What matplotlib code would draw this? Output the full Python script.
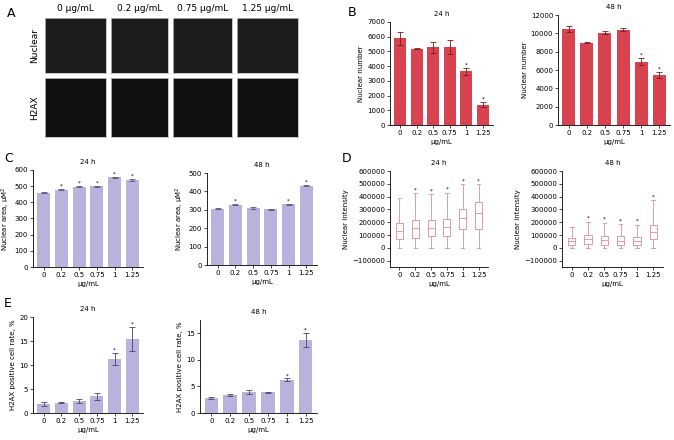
import matplotlib
matplotlib.use("Agg")
import matplotlib.pyplot as plt
import numpy as np

cats = ["0", "0.2", "0.5", "0.75", "1", "1.25"]
img_cols = ["0 μg/mL", "0.2 μg/mL", "0.75 μg/mL", "1.25 μg/mL"]
img_rows = ["Nuclear", "H2AX"]

b24 = [5900, 5180, 5270, 5300, 3650, 1380]
b24e = [450, 20, 350, 450, 220, 150]
b24s = [4, 5]
b48 = [10450, 8980, 10080, 10400, 6900, 5450]
b48e = [350, 50, 200, 180, 400, 300]
b48s = [4, 5]

c24 = [460, 478, 497, 498, 555, 538]
c24e = [3, 4, 4, 4, 4, 4]
c24s = [1, 2, 3, 4, 5]
c48 = [305, 328, 310, 303, 330, 432]
c48e = [3, 4, 3, 3, 4, 4]
c48s = [1, 4, 5]

# box stats: low whisker, q1, median, q3, high whisker
d24 = [(0, 65000, 130000, 195000, 390000), (0, 80000, 155000, 220000, 425000),
       (0, 90000, 155000, 220000, 420000), (0, 95000, 165000, 225000, 430000),
       (0, 150000, 230000, 300000, 495000), (0, 150000, 275000, 360000, 495000)]
d24s = [1, 2, 3, 4, 5]
d48 = [(0, 20000, 50000, 80000, 165000), (0, 30000, 65000, 100000, 205000),
       (0, 25000, 60000, 95000, 195000), (0, 25000, 55000, 90000, 185000),
       (0, 25000, 55000, 85000, 180000), (0, 65000, 120000, 180000, 370000)]
d48s = [1, 2, 3, 4, 5]

e24 = [1.9, 2.1, 2.5, 3.5, 11.3, 15.5]
e24e = [0.4, 0.1, 0.4, 0.7, 1.3, 2.5]
e24s = [4, 5]
e48 = [2.9, 3.4, 3.9, 3.9, 6.3, 13.8]
e48e = [0.2, 0.2, 0.4, 0.1, 0.2, 1.3]
e48s = [4, 5]

RED = "#d8434f"
PUR = "#b7b3dc"
PINK = "#e89aa3"
FS = 5

W, H = 674, 440
fig = plt.figure(figsize=(W / 100, H / 100), dpi=100)

def ax_px(l, t, r, b):
    return fig.add_axes([l / W, 1 - b / H, (r - l) / W, (b - t) / H])

def style(ax, title, ylabel):
    ax.spines["top"].set_visible(False)
    ax.spines["right"].set_visible(False)
    for s in ("left", "bottom"):
        ax.spines[s].set_linewidth(0.6)
    ax.tick_params(labelsize=FS, width=0.5, length=2, pad=1.5)
    ax.set_title(title, fontsize=FS, pad=4)
    ax.set_ylabel(ylabel, fontsize=FS, labelpad=2)
    ax.set_xlabel("μg/mL", fontsize=FS, labelpad=2)
    ax.set_xticks(range(len(cats)))
    ax.set_xticklabels(cats)

def bars(ax, vals, errs, stars, color, ecolor, ylim, yticks, title, ylabel):
    x = np.arange(len(cats))
    ax.bar(x, vals, 0.72, color=color, yerr=errs, capsize=2,
           error_kw=dict(elinewidth=0.6, capthick=0.6, ecolor=ecolor))
    top = ylim[1] - ylim[0]
    for i in stars:
        ax.text(i, vals[i] + errs[i] + top * 0.015, "*", ha="center", fontsize=4)
    ax.set_ylim(*ylim)
    ax.set_yticks(yticks)
    ax.set_xlim(-0.6, 5.6)
    style(ax, title, ylabel)

# Panel A
fig.text(7 / W, 1 - 17 / H, "A", fontsize=9)
xs = [(45, 106), (111, 168), (173, 232), (237, 298)]
ys = [(18, 73), (78, 137)]
for j, lab in enumerate(img_cols):
    fig.text((xs[j][0] + xs[j][1]) / 2 / W, 1 - 11 / H, lab, fontsize=6.5, ha="center")
    for i, rl in enumerate(img_rows):
        a = ax_px(xs[j][0], ys[i][0], xs[j][1], ys[i][1])
        a.set_facecolor("#1c1c1c" if i == 0 else "#101010")
        a.set_xticks([]); a.set_yticks([])
        for s in a.spines.values():
            s.set_color("#bbbbbb"); s.set_linewidth(0.6)
for i, rl in enumerate(img_rows):
    fig.text(35 / W, 1 - (ys[i][0] + ys[i][1]) / 2 / H, rl, fontsize=6.5, rotation=90,
             ha="center", va="center")

# Panel B
fig.text(348 / W, 1 - 16 / H, "B", fontsize=9)
a = ax_px(390, 22, 493, 125)
bars(a, b24, b24e, b24s, RED, "#7a1a22", (0, 7000), range(0, 7001, 1000), "24 h", "Nuclear number")
a = ax_px(558, 15, 670, 125)
bars(a, b48, b48e, b48s, RED, "#7a1a22", (0, 12000), range(0, 12001, 2000), "48 h", "Nuclear number")

# Panel C
fig.text(4 / W, 1 - 162 / H, "C", fontsize=9)
a = ax_px(33, 170, 143, 267)
bars(a, c24, c24e, c24s, PUR, "#555577", (0, 600), range(0, 601, 100), "24 h", "Nuclear area, μM$^2$")
a = ax_px(207, 173, 317, 265)
bars(a, c48, c48e, c48s, PUR, "#555577", (0, 500), range(0, 501, 100), "48 h", "Nuclear area, μM$^2$")

# Panel D
fig.text(342 / W, 1 - 162 / H, "D", fontsize=9)
def boxes(ax, data, stars, title):
    st = [dict(whislo=d[0], q1=d[1], med=d[2], q3=d[3], whishi=d[4], fliers=[]) for d in data]
    ax.bxp(st, positions=range(len(cats)), widths=0.45, showfliers=False,
           boxprops=dict(color=PINK, lw=0.7), whiskerprops=dict(color=PINK, lw=0.7),
           capprops=dict(color=PINK, lw=0.7), medianprops=dict(color=PINK, lw=0.7))
    for i in stars:
        ax.text(i, data[i][4] + 15000, "*", ha="center", fontsize=4)
    ax.set_ylim(-150000, 600000)
    ax.set_yticks(range(-100000, 600001, 100000))
    ax.set_xlim(-0.6, 5.6)
    style(ax, title, "Nuclear intensity")
a = ax_px(390, 171, 488, 267)
boxes(a, d24, d24s, "24 h")
a = ax_px(562, 171, 663, 267)
boxes(a, d48, d48s, "48 h")

# Panel E
fig.text(4 / W, 1 - 307 / H, "E", fontsize=9)
a = ax_px(33, 317, 143, 413)
bars(a, e24, e24e, e24s, PUR, "#444466", (0, 20), range(0, 21, 5), "24 h", "H2AX positive cell rate, %")
a = ax_px(200, 320, 317, 413)
bars(a, e48, e48e, e48s, PUR, "#444466", (0, 17.5), range(0, 16, 5), "48 h", "H2AX positive cell rate, %")

fig.savefig("out.png", dpi=100, facecolor="white")
